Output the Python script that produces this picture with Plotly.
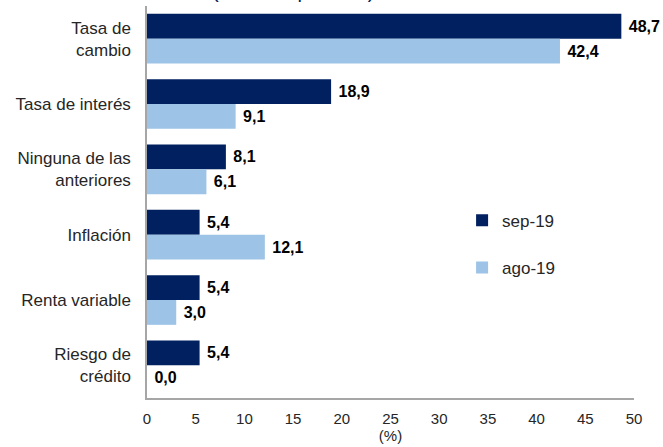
import plotly.graph_objects as go

categories = ["Tasa de<br>cambio", "Tasa de interés", "Ninguna de las<br>anteriores",
              "Inflación", "Renta variable", "Riesgo de<br>crédito"]
sep19 = [48.7, 18.9, 8.1, 5.4, 5.4, 5.4]
ago19 = [42.4, 9.1, 6.1, 12.1, 3.0, 0.0]
x_ticks = [0, 5, 10, 15, 20, 25, 30, 35, 40, 45, 50]

label_font = dict(size=16, color="#000000", family="Liberation Sans Narrow, Arial Narrow, Liberation Sans")
label_tpl = "<b>\u00a0%{x:.1f}</b>"

fig = go.Figure()
fig.add_trace(go.Bar(
    y=categories, x=sep19, orientation="h", name="sep-19",
    marker=dict(color="#002060", line=dict(width=0)),
    texttemplate=label_tpl, textposition="outside",
    textfont=label_font, cliponaxis=False, legendgroup="a"))
fig.add_trace(go.Bar(
    y=categories, x=ago19, orientation="h", name="ago-19",
    marker=dict(color="#9DC3E6", line=dict(width=0)),
    texttemplate=label_tpl, textposition="outside",
    textfont=label_font, cliponaxis=False, legendgroup="b"))

fig.update_layout(
    width=663, height=447,
    margin=dict(l=147, r=29, t=6, b=49),
    paper_bgcolor="white", plot_bgcolor="white",
    barmode="group", bargap=0.24, bargroupgap=0,
    separators=",.",
    font=dict(family="Liberation Sans, Arial", size=17, color="#262626"),
    showlegend=True,
    legend=dict(x=0.647, y=0.498, xanchor="left", yanchor="top",
                traceorder="grouped", tracegroupgap=22,
                font=dict(size=17, color="#262626"),
                itemwidth=30, bgcolor="rgba(0,0,0,0)"),
)
fig.update_xaxes(
    range=[0, 50], tickvals=x_ticks, ticktext=[str(v) for v in x_ticks],
    showgrid=False, zeroline=False, showline=True, linecolor="#A6A6A6", linewidth=1.5,
    ticks="", ticklabelstandoff=6, tickfont=dict(size=15, color="#262626"),
    title=dict(text="(%)", standoff=2, font=dict(size=15, color="#262626")),
)
fig.update_yaxes(
    autorange="reversed", showgrid=False, zeroline=False, showline=True,
    linecolor="#A6A6A6", linewidth=1.5, ticks="", ticklabelstandoff=11,
    tickfont=dict(size=17, color="#262626"),
)
fig.add_annotation(
    text="(% de respuestas)", xref="paper", yref="paper", x=0.3, y=1,
    xanchor="center", yanchor="bottom", yshift=2, showarrow=False,
    font=dict(size=20, color="#002060"))

fig.write_html("out.html")
